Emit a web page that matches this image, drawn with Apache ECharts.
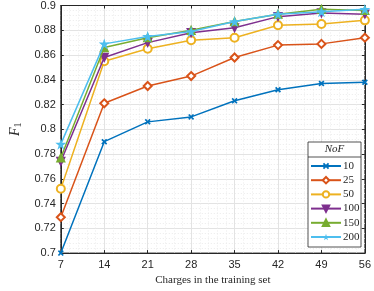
<!DOCTYPE html>
<html><head><meta charset="utf-8">
<script src="https://cdn.jsdelivr.net/npm/echarts@6/dist/echarts.min.js"></script>
<style>html,body{margin:0;padding:0;background:#fff}#c{width:374px;height:291px}</style>
</head><body><div id="c"></div>
<script>
var charges = [7, 14, 21, 28, 35, 42, 49, 56];
var seriesNames = ['10', '25', '50', '100', '150', '200'];
var nof10  = [0.700, 0.790, 0.806, 0.810, 0.823, 0.832, 0.837, 0.838];
var nof25  = [0.729, 0.821, 0.835, 0.843, 0.858, 0.868, 0.869, 0.874];
var nof50  = [0.752, 0.855, 0.865, 0.872, 0.874, 0.884, 0.885, 0.888];
var nof100 = [0.774, 0.858, 0.870, 0.878, 0.882, 0.891, 0.894, 0.893];
var nof150 = [0.777, 0.866, 0.874, 0.880, 0.887, 0.893, 0.897, 0.896];
var nof200 = [0.788, 0.869, 0.875, 0.879, 0.887, 0.893, 0.895, 0.897];
var yTicks = [0.7, 0.72, 0.74, 0.76, 0.78, 0.8, 0.82, 0.84, 0.86, 0.88, 0.9];

var allValues = [nof10, nof25, nof50, nof100, nof150, nof200];
var colors = ['#0072BD', '#D95319', '#EDB120', '#7E2F8E', '#77AC30', '#4DBEEE'];
var symbols = [
  'path://M2,0 L5,3 L8,0 L10,2 L7,5 L10,8 L8,10 L5,7 L2,10 L0,8 L3,5 L0,2 Z',
  'emptyDiamond',
  'emptyCircle',
  'path://M0,0 L10,0 L5,10 Z',
  'triangle',
  'path://M5,0 L6.2,3.6 L10,3.6 L6.9,5.9 L8.1,9.5 L5,7.3 L1.9,9.5 L3.1,5.9 L0,3.6 L3.8,3.6 Z'
];
var sizes = [6, 8, 8, 8, 8, 11];

var series = seriesNames.map(function (n, i) {
  return {
    name: n, type: 'line', xAxisIndex: 0, yAxisIndex: 0,
    data: charges.map(function (c, j) { return [c, allValues[i][j]]; }),
    symbol: symbols[i], symbolSize: sizes[i], showSymbol: true,
    lineStyle: { color: colors[i], width: 1.5 },
    itemStyle: { color: colors[i], borderColor: colors[i], borderWidth: (i === 0 || i === 5) ? 0 : 1.3 },
    emphasis: { disabled: true }, animation: false, z: 3 + i
  };
});

var axisColor = '#262626';
var chart = echarts.init(document.getElementById('c'), null, { renderer: 'canvas' });
chart.setOption({
  animation: false,
  backgroundColor: '#fff',
  grid: { left: 44, right: 8, top: 5, bottom: 33, show: true, borderColor: axisColor, borderWidth: 1 },
  xAxis: [{
    type: 'value', min: 7, max: 56, interval: 7,
    axisLine: { show: true, lineStyle: { color: axisColor } },
    axisTick: { show: true, inside: true, length: 3, lineStyle: { color: axisColor } },
    minorTick: { show: false },
    axisLabel: { color: axisColor, fontFamily: 'Liberation Sans', fontSize: 11, margin: 6 },
    splitLine: { show: true, lineStyle: { color: '#e3e3e3', width: 1 } },
    minorSplitLine: { show: true, lineStyle: { color: '#ebebeb', type: [1, 2] } },
    name: 'Charges in the training set', nameLocation: 'middle', nameGap: 21,
    nameTextStyle: { fontFamily: 'Liberation Serif', fontSize: 11, color: axisColor }
  }, {
    type: 'value', min: 7, max: 56, interval: 7, position: 'top',
    axisLine: { show: true, lineStyle: { color: axisColor } },
    axisTick: { show: true, inside: true, length: 3, lineStyle: { color: axisColor } },
    axisLabel: { show: false }, splitLine: { show: false }
  }],
  yAxis: [{
    type: 'value', min: 0.7, max: 0.9, interval: 0.02,
    axisLine: { show: true, lineStyle: { color: axisColor } },
    axisTick: { show: true, inside: true, length: 3, lineStyle: { color: axisColor } },
    axisLabel: { color: axisColor, fontFamily: 'Liberation Sans', fontSize: 11, margin: 5,
      formatter: function (v) { return String(parseFloat(v.toFixed(2))); } },
    splitLine: { show: true, lineStyle: { color: '#e3e3e3', width: 1 } },
    minorSplitLine: { show: true, lineStyle: { color: '#ebebeb', type: [1, 2] } },
    name: '{i|F}{s|1}', nameLocation: 'middle', nameGap: 36, nameRotate: 90,
    nameTextStyle: { rich: {
      i: { fontFamily: 'Liberation Serif', fontStyle: 'italic', fontSize: 14, color: axisColor },
      s: { fontFamily: 'Liberation Serif', fontSize: 10, color: axisColor, verticalAlign: 'bottom', padding: [7, 0, 0, 0] }
    } }
  }, {
    type: 'value', min: 0.7, max: 0.9, interval: 0.02, position: 'right',
    axisLine: { show: true, lineStyle: { color: axisColor } },
    axisTick: { show: true, inside: true, length: 3, lineStyle: { color: axisColor } },
    axisLabel: { show: false }, splitLine: { show: false }
  }],
  legend: {
    data: seriesNames, orient: 'vertical', left: 308, top: 158, z: 100,
    itemWidth: 30, itemHeight: 8, itemGap: 2.2,
    padding: [2, 4, 3, 2],
    textStyle: { fontFamily: 'Liberation Serif', fontSize: 11, lineHeight: 12, color: axisColor, padding: [0, 0, 0, -3] },
    backgroundColor: 'transparent', borderWidth: 0
  },
  graphic: [
    { type: 'rect', z: 50, shape: { x: 308, y: 142, width: 53, height: 105 },
      style: { fill: '#fff', stroke: '#262626', lineWidth: 0.8 }, silent: true },
    { type: 'line', z: 51, shape: { x1: 308, y1: 157, x2: 361, y2: 157 },
      style: { stroke: '#262626', lineWidth: 0.8 }, silent: true },
    { type: 'text', z: 51, x: 334.5, y: 149.5, style: { text: 'NoF', fontFamily: 'Liberation Serif', fontStyle: 'italic', fontSize: 11, fill: '#262626', align: 'center', verticalAlign: 'middle' }, silent: true }
  ],
  series: series
});
</script></body></html>
